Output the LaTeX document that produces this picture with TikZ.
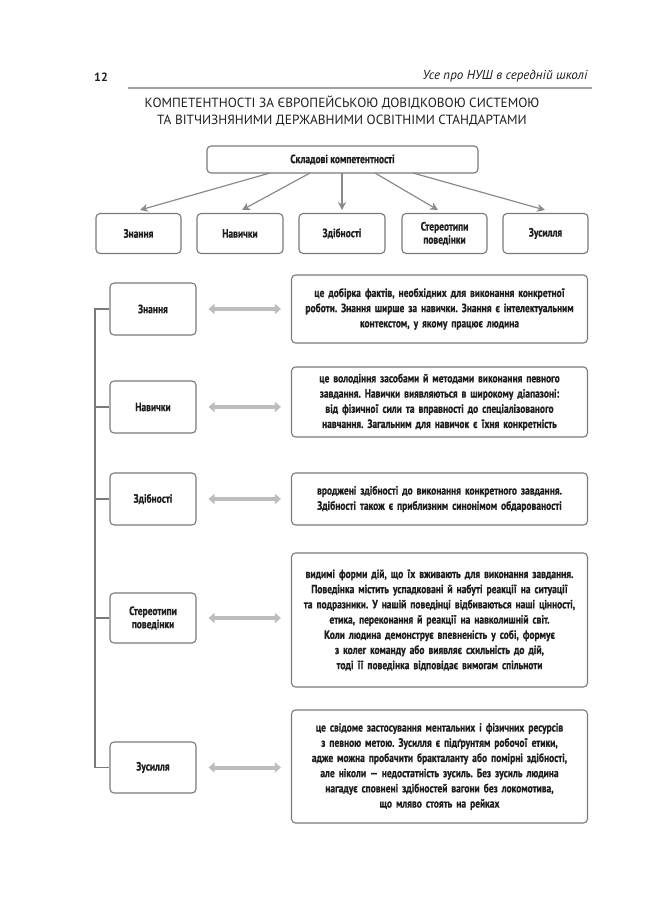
\documentclass[tikz,border=0pt]{standalone}
\usepackage{fontspec}
\setmainfont{PT Sans}
\newfontfamily\cond[FakeStretch=0.79,BoldFeatures={FakeBold=0.6}]{PT Sans}
\newcommand\boxfnt{\cond\bfseries\fontsize{12}{15.2}\selectfont\fontdimen2\font=2.4pt\relax}
\usetikzlibrary{arrows.meta}
\definecolor{boxgray}{HTML}{7A7A7A}
\definecolor{arrgray}{HTML}{8A8A8A}
\definecolor{dblgray}{HTML}{BDBDBD}
\definecolor{txt}{HTML}{1E1E1E}
\tikzset{
  box/.style={draw=boxgray, line width=1.1pt, rounded corners=4pt, fill=white, align=center,
     text=txt, inner sep=2pt, font=\boxfnt},
  down/.style={draw=arrgray, line width=1.2pt, -{Stealth[length=8pt,width=8pt]}},
  dbl/.style={draw=dblgray, line width=4pt, {Triangle[length=6pt,width=10pt]}-{Triangle[length=6pt,width=10pt]}},
  tree/.style={draw=boxgray, line width=1.1pt},
}
\begin{document}
\frenchspacing
\begin{tikzpicture}[x=1pt,y=-1pt]
\useasboundingbox (0,0) rectangle (650,900);
% header
\node[font=\bfseries\fontsize{12}{14}\selectfont, text=txt] (pnum) at (101,77) {12};
\node[font=\itshape\fontsize{13}{14}\selectfont, text=txt, anchor=east] (htitle) at (591,76) {Усе про НУШ в середній школі};
\coordinate (hl1) at (128,88);
\coordinate (hl2) at (592,88);
\draw[draw=arrgray!80, line width=1.8pt] (hl1) -- (hl2);
\node[font=\fontsize{13.3}{17}\selectfont, text=txt, align=center] (title) at (342,111)
  {КОМПЕТЕНТНОСТІ ЗА ЄВРОПЕЙСЬКОЮ ДОВІДКОВОЮ СИСТЕМОЮ\\ТА ВІТЧИЗНЯНИМИ ДЕРЖАВНИМИ ОСВІТНІМИ СТАНДАРТАМИ};
% top box
\node[box, minimum width=271pt, minimum height=27pt] (top) at (342.5,159.5) {Складові компетентності};
% row boxes
\node[box, minimum width=85pt, minimum height=40pt] (r1) at (138.5,233.5) {Знання};
\node[box, minimum width=86pt, minimum height=40pt] (r2) at (240,233.5) {Навички};
\node[box, minimum width=86pt, minimum height=40pt] (r3) at (342,233.5) {Здібності};
\node[box, minimum width=85pt, minimum height=40pt] (r4) at (444.5,233.5) {Стереотипи\\[-2pt]поведінки};
\node[box, minimum width=85pt, minimum height=40pt] (r5) at (545.5,233.5) {Зусилля};
\coordinate (s1) at (270,173);
\coordinate (s2) at (310,173);
\coordinate (s3) at (342,173);
\coordinate (s4) at (375,173);
\coordinate (s5) at (413,173);
\coordinate (e1) at (140,210);
\coordinate (e2) at (242,210);
\coordinate (e3) at (342,210);
\coordinate (e4) at (438,210);
\coordinate (e5) at (545,210);
\draw[down] (s1) -- (e1);
\draw[down] (s2) -- (e2);
\draw[down] (s3) -- (e3);
\draw[down] (s4) -- (e4);
\draw[down] (s5) -- (e5);
% left boxes
\node[box, minimum width=86pt, minimum height=52pt] (l1) at (153,309) {Знання};
\node[box, minimum width=86pt, minimum height=52pt] (l2) at (153,407) {Навички};
\node[box, minimum width=86pt, minimum height=52pt] (l3) at (153,499) {Здібності};
\node[box, minimum width=86pt, minimum height=50pt] (l4) at (153,618) {Стереотипи\\[-2pt]поведінки};
\node[box, minimum width=86pt, minimum height=51pt] (l5) at (153,767.5) {Зусилля};
% tree line
\coordinate (t1) at (95,309);
\coordinate (t2) at (95,407);
\coordinate (t3) at (95,499);
\coordinate (t4) at (95,618);
\coordinate (t5) at (95,767.5);
\draw[tree] (l1.west) -- (t1) -- (t5) -- (l5.west);
\draw[tree] (t2) -- (l2.west);
\draw[tree] (t3) -- (l3.west);
\draw[tree] (t4) -- (l4.west);
% right boxes
\node[box, text width=292pt, minimum height=68pt] (d1) at (439.5,309)
 {це добірка фактів, необхідних для виконання конкретної\\роботи. Знання ширше за навички. Знання є інтелектуальним\\контекстом, у якому працює людина};
\node[box, text width=292pt, minimum height=70pt] (d2) at (439.5,402)
 {це володіння засобами й методами виконання певного\\завдання. Навички виявляються в широкому діапазоні:\\від фізичної сили та вправності до спеціалізованого\\навчання. Загальним для навичок є їхня конкретність};
\node[box, text width=292pt, minimum height=52pt] (d3) at (439.5,499)
 {вроджені здібності до виконання конкретного завдання.\\Здібності також є приблизним синонімом обдарованості};
\node[box, text width=292pt, minimum height=134pt] (d4) at (439.5,620)
 {видимі форми дій, що їх вживають для виконання завдання.\\Поведінка містить успадковані й набуті реакції на ситуації\\та подразники. У нашій поведінці відбиваються наші цінності,\\етика, переконання й реакції на навколишній світ.\\Коли людина демонструє впевненість у собі, формує\\з колег команду або виявляє схильність до дій,\\тоді її поведінка відповідає вимогам спільноти};
\node[box, text width=292pt, minimum height=113pt] (d5) at (439.5,766.5)
 {це свідоме застосування ментальних і фізичних ресурсів\\з певною метою. Зусилля є підґрунтям робочої етики,\\адже можна пробачити бракталанту або помірні здібності,\\але ніколи — недостатність зусиль. Без зусиль людина\\нагадує сповнені здібностей вагони без локомотива,\\що мляво стоять на рейках};
% double arrows
\draw[dbl] ([xshift=12pt]l1.east) -- ([xshift=-10pt]d1.west |- l1.east);
\draw[dbl] ([xshift=12pt]l2.east) -- ([xshift=-10pt]d2.west |- l2.east);
\draw[dbl] ([xshift=12pt]l3.east) -- ([xshift=-10pt]d3.west |- l3.east);
\draw[dbl] ([xshift=12pt]l4.east) -- ([xshift=-10pt]d4.west |- l4.east);
\draw[dbl] ([xshift=12pt]l5.east) -- ([xshift=-10pt]d5.west |- l5.east);
\end{tikzpicture}
\end{document}
